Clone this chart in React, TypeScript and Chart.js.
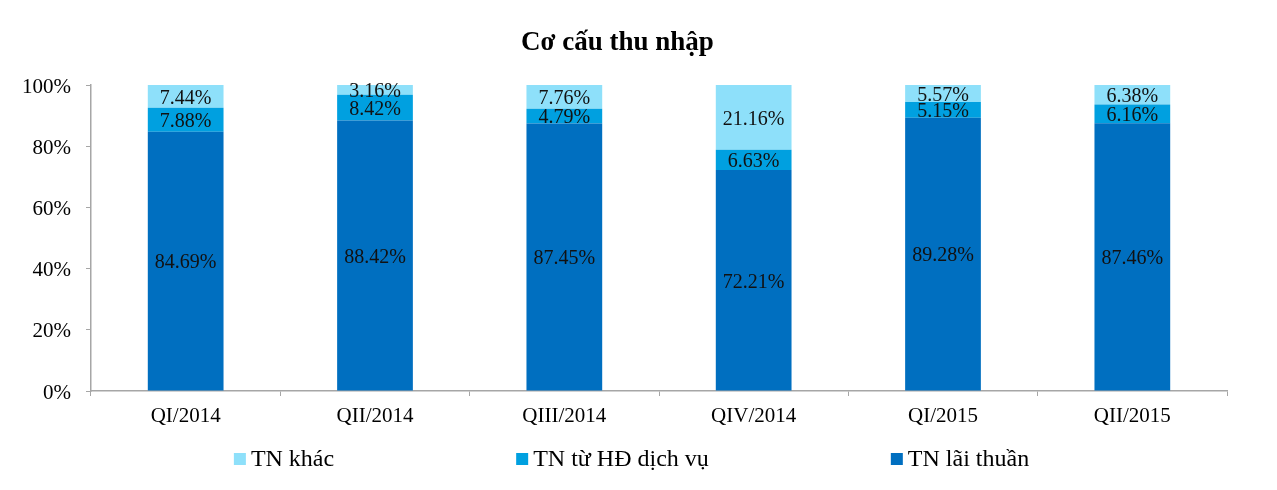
import React, { useEffect, useRef } from 'react';
import { Chart, registerables } from 'chart.js';

Chart.register(...registerables);

const categories = ['QI/2014', 'QII/2014', 'QIII/2014', 'QIV/2014', 'QI/2015', 'QII/2015'];
const laiThuan = [84.69, 88.42, 87.45, 72.21, 89.28, 87.46];
const dichVu = [7.88, 8.42, 4.79, 6.63, 5.15, 6.16];
const khac = [7.44, 3.16, 7.76, 21.16, 5.57, 6.38];
const yTickValues = [0, 20, 40, 60, 80, 100];

const FONT = '"Liberation Serif", "Times New Roman", serif';
const AXIS_COLOR = '#A6A6A6';

const segmentLabels = {
  id: 'segmentLabels',
  afterDatasetsDraw(chart: any) {
    const ctx = chart.ctx;
    ctx.save();
    ctx.font = `20px ${FONT}`;
    ctx.fillStyle = '#111111';
    ctx.textAlign = 'center';
    ctx.textBaseline = 'middle';
    chart.data.datasets.forEach((ds: any, di: number) => {
      const meta = chart.getDatasetMeta(di);
      meta.data.forEach((el: any, i: number) => {
        const { x, y, base } = el.getProps(['x', 'y', 'base'], true);
        const v = ds.data[i] as number;
        ctx.fillText(v.toFixed(2) + '%', x, (y + base) / 2 + 2);
      });
    });
    ctx.restore();
  },
};

const spreadLegend = {
  id: 'spreadLegend',
  afterDraw(chart: any) {
    const ctx = chart.ctx;
    const items = chart.data.datasets
      .map((ds: any) => ({ text: ds.label as string, color: ds.backgroundColor as string }))
      .reverse();
    const box = 12;
    const gapBoxText = 5;
    const gapItems = 182;
    ctx.save();
    ctx.font = `24px ${FONT}`;
    const widths = items.map((it: any) => box + gapBoxText + ctx.measureText(it.text).width);
    const total = widths.reduce((a: number, b: number) => a + b, 0) + gapItems * (items.length - 1);
    let x = (chart.width - total) / 2 - 7;
    const cy = 452;
    ctx.textBaseline = 'middle';
    ctx.textAlign = 'left';
    items.forEach((it: any, i: number) => {
      ctx.fillStyle = it.color;
      ctx.fillRect(x, cy - box / 2 - 1, box, box);
      ctx.fillStyle = '#000000';
      ctx.fillText(it.text, x + box + gapBoxText, cy);
      x += widths[i] + gapItems;
    });
    ctx.restore();
  },
};

export default function App() {
  const ref = useRef<HTMLCanvasElement>(null);

  useEffect(() => {
    if (!ref.current) return;
    const chart = new Chart(ref.current, {
      type: 'bar',
      data: {
        labels: categories,
        datasets: [
          { label: 'TN lãi thuần', data: laiThuan, backgroundColor: '#006FC0' },
          { label: 'TN từ HĐ dịch vụ', data: dichVu, backgroundColor: '#00A0E0' },
          { label: 'TN khác', data: khac, backgroundColor: '#8EE0FA' },
        ],
      },
      options: {
        responsive: false,
        animation: false,
        devicePixelRatio: 1,
        layout: { padding: { left: 0, right: 42, top: 0, bottom: 51 } },
        datasets: {
          bar: { categoryPercentage: 1, barPercentage: 0.4 },
        },
        scales: {
          x: {
            stacked: true,
            afterFit: (s: any) => {
              s.height = 40;
            },
            grid: {
              offset: true,
              drawOnChartArea: false,
              drawTicks: true,
              tickLength: 5,
              color: AXIS_COLOR,
            },
            border: { color: AXIS_COLOR, width: 1.5 },
            ticks: {
              color: '#000000',
              font: { family: FONT, size: 21 },
              padding: 8,
              maxRotation: 0,
            },
          },
          y: {
            stacked: true,
            min: 0,
            max: 100,
            afterFit: (s: any) => {
              s.width = 83;
            },
            afterBuildTicks: (s: any) => {
              s.ticks = yTickValues.map((v) => ({ value: v }));
            },
            grid: {
              drawOnChartArea: false,
              drawTicks: true,
              tickLength: 5,
              color: AXIS_COLOR,
            },
            border: { color: AXIS_COLOR, width: 1.5 },
            ticks: {
              color: '#000000',
              font: { family: FONT, size: 21 },
              padding: 15,
              labelOffset: 2,
              callback: (v: any) => `${v}%`,
            },
          },
        },
        plugins: {
          legend: { display: false },
          tooltip: { enabled: false },
          title: {
            display: true,
            text: 'Cơ cấu thu nhập',
            color: '#000000',
            font: { family: FONT, size: 27, weight: 'bold' },
            padding: { top: 19, bottom: 25.6 },
          },
        },
      },
      plugins: [segmentLabels, spreadLegend],
    });
    return () => chart.destroy();
  }, []);

  return (
    <div style={{ width: 1261, height: 474 }}>
      <canvas ref={ref} width={1261} height={474} style={{ display: 'block' }} />
    </div>
  );
}
